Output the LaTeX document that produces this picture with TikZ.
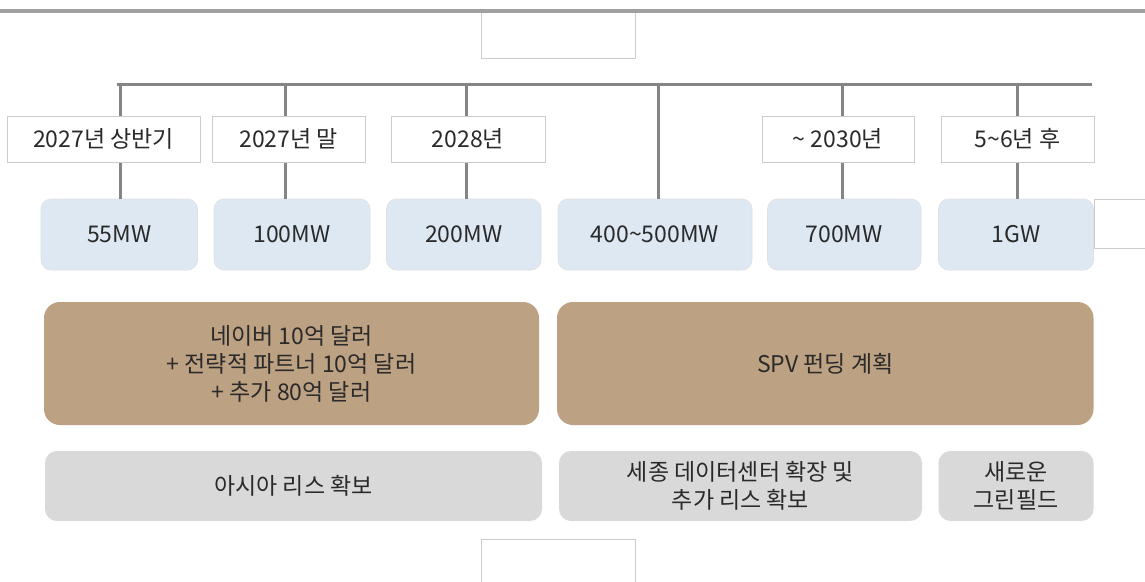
\documentclass[tikz,border=0pt]{standalone}
\usepackage{fontspec}
\setmainfont{Noto Sans CJK KR}
\definecolor{txt}{HTML}{2A2A2A}
\definecolor{bluefill}{HTML}{DDE8F3}
\definecolor{brownfill}{HTML}{BDA183}
\definecolor{grayfill}{HTML}{D9D9D9}
\definecolor{linegray}{HTML}{858585}
\definecolor{topgray}{HTML}{A0A0A0}
\definecolor{edgegray}{HTML}{CBCBCB}
\tikzset{
  base/.style={inner sep=0pt, align=center, text=txt, font=\fontsize{23}{28}\selectfont},
  datebox/.style={base, draw=edgegray, line width=0.8pt, fill=white, minimum height=46pt},
  mwbox/.style={base, draw=edgegray!60, line width=0.6pt, fill=bluefill, rounded corners=10pt, minimum height=71pt},
  fundbox/.style={base, fill=brownfill, rounded corners=16pt, minimum height=123pt},
  leasebox/.style={base, fill=grayfill, rounded corners=12pt, minimum height=70pt},
  emptybox/.style={draw=edgegray, line width=0.8pt, fill=white, inner sep=0pt},
  conn/.style={draw=linegray, line width=3pt}
}
\begin{document}
\begin{tikzpicture}[x=1pt, y=-1pt]
\useasboundingbox[fill=white] (0,0) rectangle (1145,581);
% empty boxes
\node[emptybox, minimum width=154pt, minimum height=46pt] (topbox) at (558,35) {};
\node[emptybox, minimum width=154pt, minimum height=51pt] (botbox) at (558,565) {};
\node[emptybox, minimum width=70pt, minimum height=49pt, anchor=north west] (rightbox) at (1094,199) {};
% top rule
\coordinate (ruleL) at (-5,11);
\coordinate (ruleR) at (1150,11);
\draw[topgray, line width=4pt] (ruleL) -- (ruleR);
% bus
\coordinate (busL) at (118,84);
\coordinate (busR) at (1090,84);
\coordinate (b1) at (120,84);
\coordinate (b2) at (285,84);
\coordinate (b3) at (466,84);
\coordinate (b4) at (658,84);
\coordinate (b5) at (842,84);
\coordinate (b6) at (1017,84);
% MW boxes
\node[mwbox, minimum width=156.5pt] (m1) at (119.25,234.5) {55MW};
\node[mwbox, minimum width=156pt] (m2) at (292,234.5) {100MW};
\node[mwbox, minimum width=154.5pt] (m3) at (463.75,234.5) {200MW};
\node[mwbox, minimum width=194pt] (m4) at (655,234.5) {400\textasciitilde500MW};
\node[mwbox, minimum width=153.5pt] (m5) at (844.25,234.5) {700MW};
\node[mwbox, minimum width=155pt] (m6) at (1016,234.5) {1GW};
% connectors
\draw[conn, line cap=rect] (busL) -- (busR);
\draw[conn] (b1) -- (b1 |- m1.north);
\draw[conn] (b2) -- (b2 |- m2.north);
\draw[conn] (b3) -- (b3 |- m3.north);
\draw[conn] (b4) -- (b4 |- m4.north);
\draw[conn] (b5) -- (b5 |- m5.north);
\draw[conn] (b6) -- (b6 |- m6.north);
% date boxes
\node[datebox, minimum width=193pt] (d1) at (103.5,139) {2027년 상반기};
\node[datebox, minimum width=153pt] (d2) at (288.5,139) {2027년 말};
\node[datebox, minimum width=154pt] (d3) at (468,139) {2028년};
\node[datebox, minimum width=152pt] (d5) at (838,139) {\textasciitilde{} 2030년};
\node[datebox, minimum width=153pt] (d6) at (1017.5,139) {5\textasciitilde6년 후};
% funding boxes
\node[fundbox, minimum width=495pt] (f1) at (291.5,363.5) {네이버 10억 달러\\+ 전략적 파트너 10억 달러\\+ 추가 80억 달러};
\node[fundbox, minimum width=536.5pt] (f2) at (825.25,363.5) {SPV 펀딩 계획};
% lease boxes
\node[leasebox, minimum width=497pt] (g1) at (293.5,486) {아시아 리스 확보};
\node[leasebox, minimum width=363pt] (g2) at (740.5,486) {세종 데이터센터 확장 및\\추가 리스 확보};
\node[leasebox, minimum width=155pt] (g3) at (1016,486) {새로운\\그린필드};
\end{tikzpicture}
\end{document}
